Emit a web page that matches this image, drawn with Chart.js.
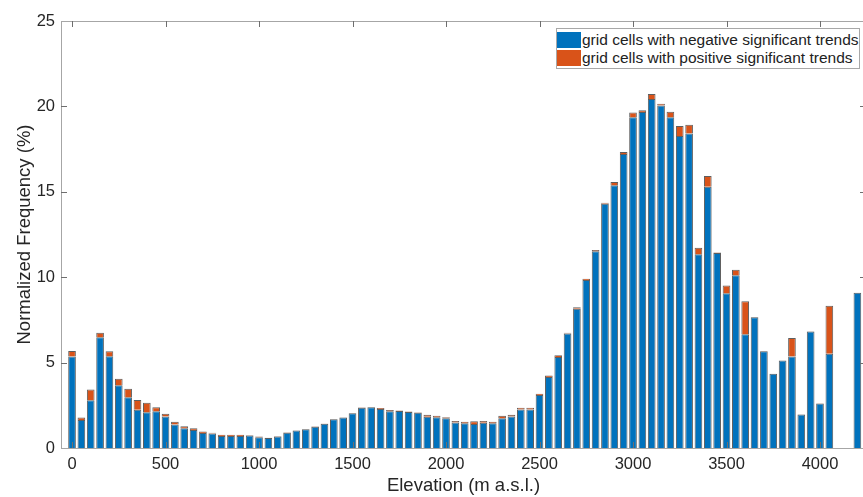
<!DOCTYPE html>
<html>
<head>
<meta charset="utf-8">
<script src="https://cdn.jsdelivr.net/npm/chart.js@4"></script>
<style>
  html, body { margin: 0; padding: 0; background: #fff; overflow: hidden; }
  #wrap { position: relative; width: 863px; height: 497px; overflow: hidden; }
  #grafik { position: absolute; left: 0; top: 0; }
  #legend {
    position: absolute; left: 556px; top: 28px; width: 302px; height: 39px;
    border: 1px solid #a8a8a8; background: #fff;
    font-family: "Liberation Sans", Arial, sans-serif; font-size: 15.5px; color: #222;
  }
  #legend .baris { position: absolute; left: 0; height: 18px; line-height: 18px; white-space: nowrap; }
  #legend .kotak { display: inline-block; width: 24px; height: 16px; vertical-align: -3px; margin-right: 1px; }
</style>
</head>
<body>
<div id="wrap">
  <canvas id="grafik" width="870" height="497"></canvas>
  <div id="legend">
    <div class="baris" style="top:2px"><span class="kotak" style="background:#0072BD"></span>grid cells with negative significant trends</div>
    <div class="baris" style="top:20px"><span class="kotak" style="background:#D95319"></span>grid cells with positive significant trends</div>
  </div>
</div>
<script>
/* =====================================
   DATA
===================================== */
const elevasi = [
  0, 50, 100, 150, 200, 250, 300, 350, 400, 450,
  500, 550, 600, 650, 700, 750, 800, 850, 900, 950,
  1000, 1050, 1100, 1150, 1200, 1250, 1300, 1350, 1400, 1450,
  1500, 1550, 1600, 1650, 1700, 1750, 1800, 1850, 1900, 1950,
  2000, 2050, 2100, 2150, 2200, 2250, 2300, 2350, 2400, 2450,
  2500, 2550, 2600, 2650, 2700, 2750, 2800, 2850, 2900, 2950,
  3000, 3050, 3100, 3150, 3200, 3250, 3300, 3350, 3400, 3450,
  3500, 3550, 3600, 3650, 3700, 3750, 3800, 3850, 3900, 3950,
  4000, 4050, 4200
];

// grid cells dengan tren negatif signifikan (%)
const trenNegatif = [
  5.35, 1.64, 2.79, 6.48, 5.37, 3.67, 2.97, 2.24, 2.09, 2.15,
  1.85, 1.37, 1.15, 1.06, 0.88, 0.85, 0.70, 0.70, 0.70, 0.73,
  0.63, 0.58, 0.68, 0.90, 1.02, 1.10, 1.25, 1.42, 1.68, 1.78,
  2.03, 2.36, 2.38, 2.29, 2.15, 2.17, 2.11, 2.07, 1.83, 1.80,
  1.74, 1.50, 1.45, 1.40, 1.48, 1.45, 1.74, 1.84, 2.26, 2.26,
  3.10, 4.16, 5.33, 6.70, 8.16, 9.84, 11.52, 14.30, 15.38, 17.21,
  19.36, 19.67, 20.43, 20.06, 19.36, 18.27, 18.42, 11.34, 15.30, 11.42,
  9.06, 10.11, 6.66, 7.65, 5.66, 4.34, 5.12, 5.35, 1.96, 6.82,
  2.61, 5.52, 9.09
];

// grid cells dengan tren positif signifikan (%), ditumpuk di atas
const trenPositif = [
  0.33, 0.14, 0.63, 0.27, 0.29, 0.39, 0.50, 0.57, 0.56, 0.23,
  0.16, 0.17, 0.12, 0.09, 0.08, 0.05, 0.08, 0.08, 0.08, 0.03,
  0.05, 0.02, 0.02, 0.02, 0.02, 0.01, 0.02, 0.02, 0.02, 0.02,
  0.02, 0.02, 0.02, 0.05, 0.07, 0.03, 0.02, 0.02, 0.12, 0.09,
  0.06, 0.08, 0.09, 0.16, 0.10, 0.09, 0.15, 0.11, 0.10, 0.10,
  0.08, 0.09, 0.10, 0.05, 0.08, 0.07, 0.07, 0.06, 0.19, 0.12,
  0.29, 0.10, 0.30, 0.10, 0.33, 0.58, 0.51, 0.39, 0.63, 0.02,
  0.46, 0.33, 1.93, 0.02, 0.02, 0.01, 0.01, 1.09, 0.01, 0.01,
  0.01, 2.81, null
];

const tickX = [0, 500, 1000, 1500, 2000, 2500, 3000, 3500, 4000];
const tickY = [0, 5, 10, 15, 20, 25];

/* =====================================
   PLUGIN: KOTAK AXIS + TICK KE DALAM (gaya MATLAB)
===================================== */
const kotakAxis = {
  id: "kotakAxis",
  afterDraw(chart) {
    const { ctx, chartArea: a, scales } = chart;
    ctx.save();
    ctx.lineWidth = 1;
    ctx.strokeStyle = "#a6a6a6";
    ctx.strokeRect(a.left + 0.5, a.top + 0.5, a.right - a.left, a.bottom - a.top);

    ctx.strokeStyle = "#6e6e6e";
    ctx.beginPath();
    tickX.forEach(v => {
      const px = Math.round(scales.x.getPixelForValue(v)) + 0.5;
      ctx.moveTo(px, a.bottom); ctx.lineTo(px, a.bottom - 6);
      ctx.moveTo(px, a.top);    ctx.lineTo(px, a.top + 6);
    });
    tickY.slice(1, -1).forEach(v => {
      const py = Math.round(scales.y.getPixelForValue(v)) + 0.5;
      ctx.moveTo(a.left, py);  ctx.lineTo(a.left + 6, py);
      ctx.moveTo(a.right, py); ctx.lineTo(a.right - 6, py);
    });
    ctx.stroke();
    ctx.restore();
  }
};

/* =====================================
   GRAFIK
===================================== */
const hurufAxis = { family: "'Liberation Sans', Arial, sans-serif", size: 16.5 };
const hurufJudul = { family: "'Liberation Sans', Arial, sans-serif", size: 18.5 };

new Chart(document.getElementById("grafik"), {
  type: "bar",
  data: {
    datasets: [
      {
        label: "grid cells with negative significant trends",
        data: elevasi.map((e, i) => ({ x: e, y: trenNegatif[i] })),
        backgroundColor: "#0072BD",
        borderColor: "rgba(25,25,25,0.7)",
        borderWidth: 1,
        stack: "a"
      },
      {
        label: "grid cells with positive significant trends",
        data: elevasi.map((e, i) => ({ x: e, y: trenPositif[i] })),
        backgroundColor: "#D95319",
        borderColor: "rgba(25,25,25,0.7)",
        borderWidth: 1,
        stack: "a"
      }
    ]
  },
  options: {
    responsive: false,
    animation: false,
    barPercentage: 0.82,
    categoryPercentage: 1,
    layout: { padding: { top: 21, right: 4, bottom: 0, left: 0 } },
    plugins: {
      legend: { display: false },
      tooltip: { enabled: false }
    },
    scales: {
      x: {
        type: "linear",
        stacked: true,
        offset: false,
        min: -59,
        max: 4246,
        grid: { display: false, drawTicks: false },
        border: { display: false },
        afterBuildTicks: axis => { axis.ticks = tickX.map(v => ({ value: v })); },
        afterFit: axis => { axis.height = 49; },
        ticks: {
          color: "#262626", font: hurufAxis, padding: 7, maxRotation: 0,
          callback: v => String(v)
        },
        title: {
          display: true,
          text: "Elevation (m a.s.l.)",
          color: "#262626",
          font: hurufJudul,
          padding: { top: 0, bottom: 0 }
        }
      },
      y: {
        stacked: true,
        min: 0,
        max: 25,
        grid: { display: false, drawTicks: false },
        border: { display: false },
        afterBuildTicks: axis => { axis.ticks = tickY.map(v => ({ value: v })); },
        afterFit: axis => { axis.width = 61; },
        ticks: { color: "#262626", font: hurufAxis, padding: 6, callback: v => String(v) },
        title: {
          display: true,
          text: "Normalized Frequency (%)",
          color: "#262626",
          font: hurufJudul,
          padding: { top: 14, bottom: 0 }
        }
      }
    }
  },
  plugins: [kotakAxis]
});
</script>
</body>
</html>
